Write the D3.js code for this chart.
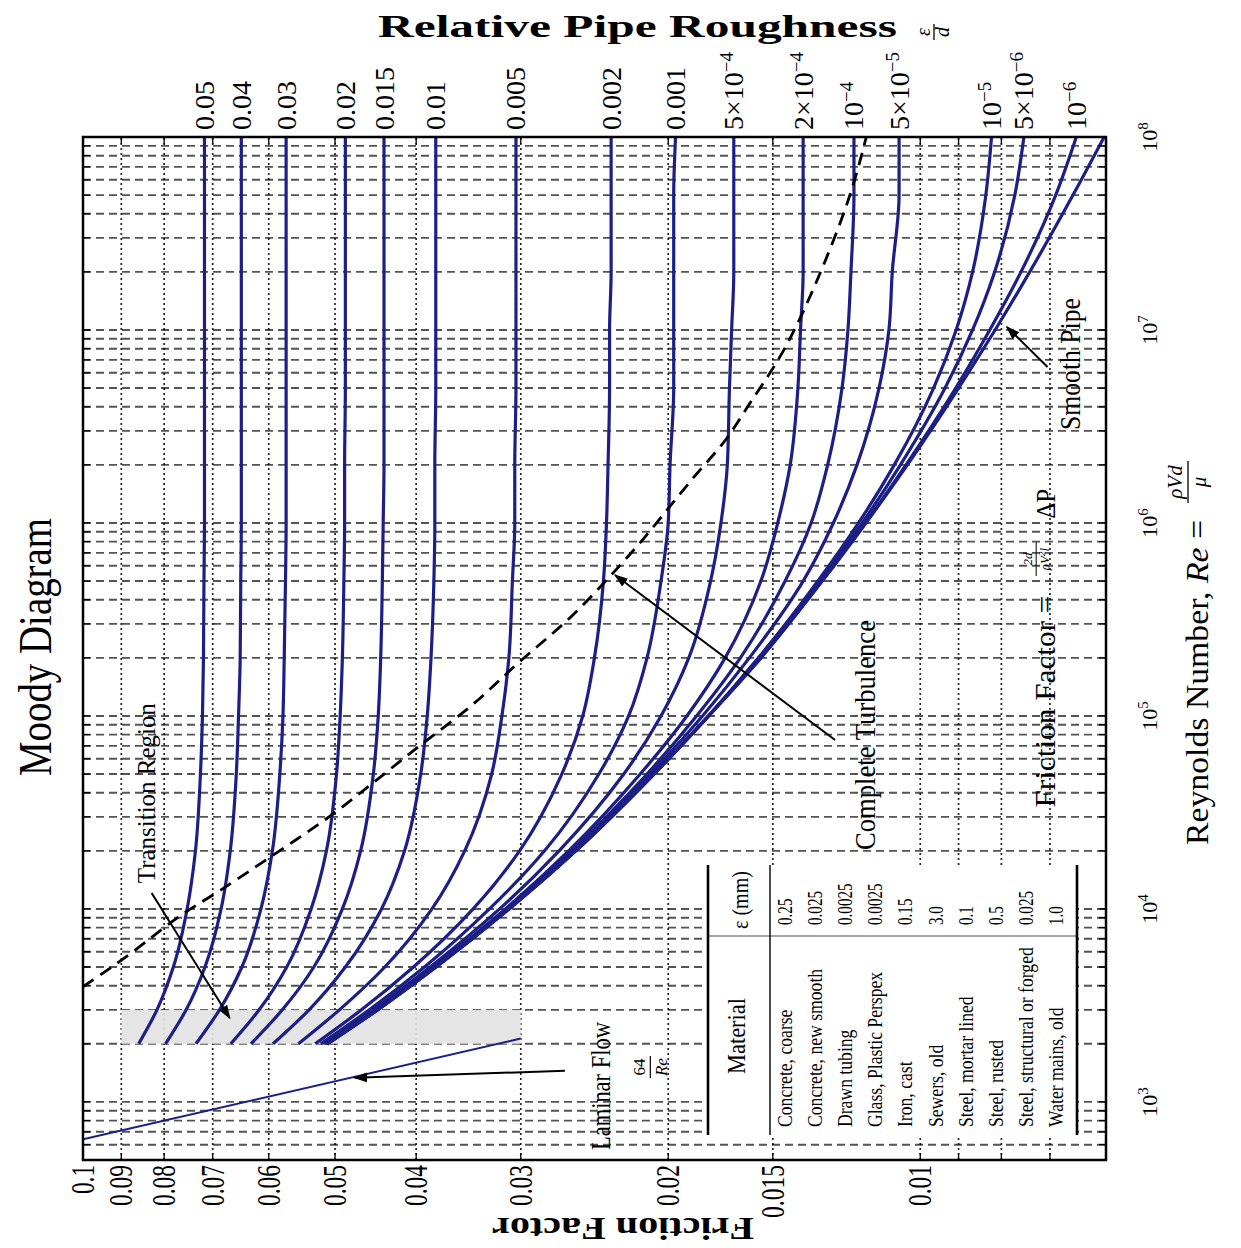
<!DOCTYPE html>
<html lang="en">
<head>
<meta charset="utf-8">
<title>Moody Diagram</title>
<script src="https://cdn.jsdelivr.net/npm/d3@7/dist/d3.min.js"></script>
<style>
  body { margin: 0; background: #fff; }
  svg text { font-family: "Liberation Serif", "DejaVu Serif", serif; }
</style>
</head>
<body>
<script>
var reynolds = [2000, 3000, 5000, 1e4, 2e4, 5e4, 1e5, 2e5, 5e5, 1e6, 2e6, 5e6, 1e7, 2e7, 5e7, 1e8];

// relative roughness of each curve, and the label printed at its end
var roughness = [0.05, 0.04, 0.03, 0.02, 0.015, 0.01, 0.005, 0.002, 0.001, 5e-4, 2e-4, 1e-4, 5e-5, 1e-5, 5e-6, 1e-6];
var roughLabels = [["0.05", ""], ["0.04", ""], ["0.03", ""], ["0.02", ""], ["0.015", ""], ["0.01", ""],
  ["0.005", ""], ["0.002", ""], ["0.001", ""], ["5\u00d710", "\u22124"], ["2\u00d710", "\u22124"], ["10", "\u22124"],
  ["5\u00d710", "\u22125"], ["10", "\u22125"], ["5\u00d710", "\u22126"], ["10", "\u22126"]];

// friction factor of each roughness curve, one value per Reynolds number above
var friction = [
  [0.0858, 0.0816, 0.0780, 0.0751, 0.0734, 0.0724, 0.0720, 0.0718, 0.0717, 0.0716, 0.0716, 0.0716, 0.0716, 0.0716, 0.0716, 0.0716],
  [0.0797, 0.0753, 0.0715, 0.0684, 0.0667, 0.0656, 0.0652, 0.0649, 0.0648, 0.0647, 0.0647, 0.0647, 0.0647, 0.0647, 0.0647, 0.0647],
  [0.0733, 0.0687, 0.0646, 0.0613, 0.0594, 0.0582, 0.0577, 0.0575, 0.0573, 0.0572, 0.0572, 0.0572, 0.0572, 0.0572, 0.0572, 0.0572],
  [0.0666, 0.0616, 0.0571, 0.0534, 0.0512, 0.0498, 0.0493, 0.0490, 0.0488, 0.0487, 0.0487, 0.0486, 0.0486, 0.0486, 0.0486, 0.0486],
  [0.0630, 0.0578, 0.0530, 0.0490, 0.0466, 0.0450, 0.0444, 0.0441, 0.0439, 0.0438, 0.0437, 0.0437, 0.0437, 0.0437, 0.0437, 0.0437],
  [0.0593, 0.0537, 0.0486, 0.0440, 0.0413, 0.0395, 0.0388, 0.0384, 0.0381, 0.0380, 0.0380, 0.0379, 0.0379, 0.0379, 0.0379, 0.0379],
  [0.0553, 0.0494, 0.0436, 0.0383, 0.0350, 0.0325, 0.0316, 0.0310, 0.0307, 0.0305, 0.0305, 0.0304, 0.0304, 0.0304, 0.0304, 0.0304],
  [0.0528, 0.0465, 0.0403, 0.0342, 0.0301, 0.0268, 0.0253, 0.0245, 0.0239, 0.0237, 0.0236, 0.0235, 0.0235, 0.0234, 0.0234, 0.0234],
  [0.0520, 0.0455, 0.0391, 0.0327, 0.0281, 0.0242, 0.0223, 0.0212, 0.0204, 0.0200, 0.0199, 0.0197, 0.0197, 0.0197, 0.0197, 0.0196],
  [0.0515, 0.0450, 0.0385, 0.0318, 0.0270, 0.0226, 0.0204, 0.0189, 0.0178, 0.0173, 0.0170, 0.0169, 0.0168, 0.0167, 0.0167, 0.0167],
  [0.0513, 0.0447, 0.0381, 0.0313, 0.0263, 0.0216, 0.0190, 0.0171, 0.0155, 0.0148, 0.0143, 0.0140, 0.0139, 0.0138, 0.0138, 0.0138],
  [0.0512, 0.0446, 0.0380, 0.0312, 0.0261, 0.0212, 0.0185, 0.0164, 0.0145, 0.0135, 0.0129, 0.0124, 0.0122, 0.0121, 0.0120, 0.0120],
  [0.0511, 0.0445, 0.0379, 0.0311, 0.0259, 0.0210, 0.0182, 0.0160, 0.0138, 0.0127, 0.0119, 0.0112, 0.0109, 0.0108, 0.0106, 0.0106],
  [0.0511, 0.0445, 0.0379, 0.0310, 0.0258, 0.0208, 0.0179, 0.0156, 0.01325, 0.01185, 0.01074, 0.00964, 0.00906, 0.00866, 0.00835, 0.00822],
  [0.0511, 0.0445, 0.0379, 0.0310, 0.0258, 0.0208, 0.0179, 0.0156, 0.01317, 0.01173, 0.01056, 0.00934, 0.00866, 0.00815, 0.00771, 0.00752],
  [0.0511, 0.0445, 0.0379, 0.0310, 0.0258, 0.0208, 0.0179, 0.0155, 0.01311, 0.01163, 0.01040, 0.00907, 0.00826, 0.00758, 0.00689, 0.00651]
];
var smoothPipe = [0.0511, 0.0445, 0.0379, 0.0310, 0.0258, 0.0208, 0.0179, 0.0155, 0.01309, 0.01161, 0.01036, 0.00900, 0.00814, 0.00740, 0.00657, 0.00603];

// laminar line end points
var laminarRe = [640, 2130];
var laminarF = [0.1, 0.03];

// dashed boundary of complete turbulence
var turbRe = [3950, 6110, 9100, 12000, 18600, 28900, 46500, 75000, 116000, 187000, 314000, 571000, 785000,
  1220000, 1810000, 2690000, 4010000, 6210000, 10000000, 20500000, 49200000, 100000000];
var turbF = [0.1, 0.0863, 0.0774, 0.0693, 0.0598, 0.0512, 0.0446, 0.0389, 0.0339, 0.0304, 0.0262, 0.0231, 0.0216,
  0.0199, 0.0185, 0.0170, 0.0161, 0.0150, 0.0141, 0.0131, 0.0121, 0.0116];

// transition region shading
var transRe = [2000, 3000];
var transF = [0.09, 0.03];

var fGrid = [0.006, 0.007, 0.008, 0.009, 0.01, 0.015, 0.02, 0.03, 0.04, 0.05, 0.06, 0.07, 0.08, 0.09];
var fTicks = [0.1, 0.09, 0.08, 0.07, 0.06, 0.05, 0.04, 0.03, 0.02, 0.015, 0.01];
var reDecades = [1e3, 1e4, 1e5, 1e6, 1e7, 1e8];

var materials = ["Concrete, coarse", "Concrete, new smooth", "Drawn tubing", "Glass, Plastic Perspex", "Iron, cast",
  "Sewers, old", "Steel, mortar lined", "Steel, rusted", "Steel, structural or forged", "Water mains, old"];
var epsMm = ["0.25", "0.025", "0.0025", "0.0025", "0.15", "3.0", "0.1", "0.5", "0.025", "1.0"];

var w = 1241;
var h = 1248;
var W = 1023;   // Reynolds extent
var H = 1023;   // friction factor extent
var blue = "#1c1f86";

var svg = d3.select("body").append("svg").attr("width", w).attr("height", h);
svg.append("rect").attr("width", w).attr("height", h).attr("fill", "#fff");

var defs = svg.append("defs");
defs.append("clipPath").attr("id", "plotclip")
  .append("rect").attr("x", 0).attr("y", 0).attr("width", W).attr("height", H);
defs.append("marker").attr("id", "arrow")
  .attr("viewBox", "0 -5 10 10").attr("refX", 9).attr("refY", 0)
  .attr("markerWidth", 14).attr("markerHeight", 14).attr("markerUnits", "userSpaceOnUse")
  .attr("orient", "auto")
  .append("path").attr("d", "M0,-3.5L10,0L0,3.5Z").attr("fill", "#000");

var x = d3.scaleLog().domain([500, 1e8]).range([0, W]);
var y = d3.scaleLog().domain([0.1, 0.006]).range([0, H]);

// the chart is laid out normally and then turned a quarter turn to the left
var g = svg.append("g").attr("transform", "translate(83,1160) rotate(-90)");
var plot = g.append("g").attr("clip-path", "url(#plotclip)");

// grid
var reGrid = x.ticks().filter(function(d) { return d > 500 && d < 1e8; });
plot.selectAll(".regrid").data(reGrid).enter().append("line")
  .attr("x1", function(d) { return x(d); }).attr("x2", function(d) { return x(d); })
  .attr("y1", 0).attr("y2", H)
  .attr("stroke", "#2a2a2a").attr("stroke-width", 1.9)
  .attr("stroke-dasharray", "8,5").attr("opacity", 0.8);
plot.selectAll(".fgrid").data(fGrid).enter().append("line")
  .attr("x1", 0).attr("x2", W)
  .attr("y1", function(d) { return y(d); }).attr("y2", function(d) { return y(d); })
  .attr("stroke", "#000").attr("stroke-width", 1.7)
  .attr("stroke-dasharray", "2,3").attr("opacity", 0.85);

// transition region
plot.append("rect")
  .attr("x", x(transRe[0])).attr("width", x(transRe[1]) - x(transRe[0]))
  .attr("y", y(transF[0])).attr("height", y(transF[1]) - y(transF[0]))
  .attr("fill", "#e3e3e3").attr("opacity", 0.92);

// roughness curves
var line = d3.line()
  .x(function(d) { return x(d[0]); })
  .y(function(d) { return y(d[1]); })
  .curve(d3.curveMonotoneX);

var curves = friction.concat([smoothPipe]);
plot.selectAll(".curve").data(curves).enter().append("path")
  .attr("d", function(c) {
    return line(reynolds.map(function(r, i) { return [r, c[i]]; }));
  })
  .attr("fill", "none").attr("stroke", blue).attr("stroke-width", 3.2);

plot.append("path")
  .attr("d", line(laminarRe.map(function(r, i) { return [r, laminarF[i]]; })))
  .attr("fill", "none").attr("stroke", blue).attr("stroke-width", 2);

plot.append("path")
  .attr("d", line.curve(d3.curveBasis)(turbRe.map(function(r, i) { return [r, turbF[i]]; })))
  .attr("fill", "none").attr("stroke", "#000").attr("stroke-width", 2.8)
  .attr("stroke-dasharray", "13,8");

// material table
var tb = g.append("g");
tb.append("rect").attr("x", 25).attr("y", 625).attr("width", 270).attr("height", 369).attr("fill", "#fff");
tb.append("line").attr("x1", 224).attr("x2", 224).attr("y1", 625).attr("y2", 994)
  .attr("stroke", "#888").attr("stroke-width", 1.5);
[[625, 2.6], [687, 1.4], [994, 2.6]].forEach(function(r) {
  tb.append("line").attr("x1", 25).attr("x2", 295).attr("y1", r[0]).attr("y2", r[0])
    .attr("stroke", "#000").attr("stroke-width", r[1]);
});
tb.append("text").attr("x", 124).attr("y", 662).attr("text-anchor", "middle")
  .attr("font-size", 26).attr("textLength", 76).attr("lengthAdjust", "spacingAndGlyphs").text("Material");
tb.append("text").attr("x", 260).attr("y", 665).attr("text-anchor", "middle")
  .attr("font-size", 24).attr("textLength", 58).attr("lengthAdjust", "spacingAndGlyphs").text("\u03b5 (mm)");
tb.selectAll(".mat").data(materials).enter().append("text")
  .attr("transform", function(d, i) { return "translate(33," + (709 + 30.1 * i) + ") scale(0.84,1)"; })
  .attr("font-size", 21).text(function(d) { return d; });
tb.selectAll(".eps").data(epsMm).enter().append("text")
  .attr("transform", function(d, i) { return "translate(235," + (709 + 30.1 * i) + ") scale(0.72,1)"; })
  .attr("font-size", 21).text(function(d) { return d; });

// arrows
var arrows = [
  [12090, 0.0828, 2720, 0.0668],
  [1450, 0.02657, 1334, 0.0474],
  [75000, 0.01264, 537000, 0.02315],
  [6.43e6, 0.007046, 1.036e7, 0.00788]
];
g.selectAll(".arrow").data(arrows).enter().append("line")
  .attr("x1", function(d) { return x(d[0]); }).attr("y1", function(d) { return y(d[1]); })
  .attr("x2", function(d) { return x(d[2]); }).attr("y2", function(d) { return y(d[3]); })
  .attr("stroke", "#000").attr("stroke-width", 2).attr("marker-end", "url(#arrow)");

// notes
var notes = [
  ["Transition Region", 13600, 0.082, 25, 180],
  ["Laminar Flow", 563, 0.02348, 27, 128],
  ["Complete Turbulence", 20200, 0.01133, 29, 230],
  ["Friction Factor =", 33500, 0.0069, 30, 212],
  ["Smooth Pipe", 3.03e6, 0.00645, 30, 132]
];
g.selectAll(".note").data(notes).enter().append("text")
  .attr("x", function(d) { return x(d[1]); }).attr("y", function(d) { return y(d[2]); })
  .attr("font-size", function(d) { return d[3]; })
  .attr("textLength", function(d) { return d[4]; }).attr("lengthAdjust", "spacingAndGlyphs")
  .text(function(d) { return d[0]; });

// 64 / Re
var lx = x(1516), ly = y(0.0213);
g.append("text").attr("x", lx).attr("y", ly).attr("text-anchor", "middle").attr("font-size", 17).text("64");
g.append("line").attr("x1", lx - 11).attr("x2", lx + 11).attr("y1", ly + 5).attr("y2", ly + 5)
  .attr("stroke", "#000").attr("stroke-width", 1.2);
g.append("text").attr("x", lx).attr("y", ly + 22).attr("text-anchor", "middle").attr("font-size", 17)
  .attr("font-style", "italic").text("Re");

// 2d / (rho V^2 l) and delta P
var fx = x(650000), fy = y(0.0069);
g.append("text").attr("x", fx).attr("y", fy - 23).attr("text-anchor", "middle").attr("font-size", 13)
  .attr("font-style", "italic").text("2d");
g.append("line").attr("x1", fx - 17).attr("x2", fx + 17).attr("y1", fy - 19).attr("y2", fy - 19)
  .attr("stroke", "#000").attr("stroke-width", 1);
var den = g.append("text").attr("x", fx).attr("y", fy - 6).attr("text-anchor", "middle").attr("font-size", 13)
  .attr("font-style", "italic");
den.append("tspan").text("\u03c1V");
den.append("tspan").attr("dy", -4).attr("font-size", 9).text("2");
den.append("tspan").attr("dy", 4).text("l");
g.append("text").attr("x", x(1.05e6)).attr("y", y(0.0069)).attr("font-size", 28)
  .attr("textLength", 30).attr("lengthAdjust", "spacingAndGlyphs").text("\u0394P");

// title and Reynolds axis label
g.append("text").attr("x", 513).attr("y", -32).attr("text-anchor", "middle")
  .attr("font-size", 46).attr("textLength", 258).attr("lengthAdjust", "spacingAndGlyphs")
  .text("Moody Diagram");

var rl = g.append("text").attr("x", 315).attr("y", 1125).attr("font-size", 32)
  .attr("textLength", 325).attr("lengthAdjust", "spacingAndGlyphs");
rl.append("tspan").text("Reynolds Number, ");
rl.append("tspan").attr("font-style", "italic").text("Re");
rl.append("tspan").text(" =");
g.append("text").attr("x", 678).attr("y", 1099).attr("text-anchor", "middle").attr("font-size", 21)
  .attr("font-style", "italic").text("\u03c1Vd");
g.append("line").attr("x1", 657).attr("x2", 699).attr("y1", 1105).attr("y2", 1105)
  .attr("stroke", "#000").attr("stroke-width", 1.3);
g.append("text").attr("x", 678).attr("y", 1123).attr("text-anchor", "middle").attr("font-size", 21)
  .attr("font-style", "italic").text("\u03bc");

// Reynolds tick labels
g.selectAll(".relab").data(reDecades).enter().append("text")
  .attr("x", function(d) { return x(d); }).attr("y", H + 51)
  .attr("text-anchor", "middle").attr("font-size", 22)
  .each(function(d) {
    var t = d3.select(this);
    t.append("tspan").text("10");
    t.append("tspan").attr("dy", -9).attr("font-size", 15).text(Math.round(Math.log10(d)));
  });

// friction factor tick labels
g.selectAll(".flab").data(fTicks).enter().append("text")
  .attr("x", -5).attr("y", function(d) { return y(d) + 11; })
  .attr("text-anchor", "end").attr("font-size", 33)
  .attr("textLength", function(d) { return 12 * (String(d).length - 1) + 5; })
  .attr("lengthAdjust", "spacingAndGlyphs")
  .text(function(d) { return String(d); });

// roughness labels at the curve ends
g.selectAll(".rlab").data(roughLabels).enter().append("text")
  .attr("x", W + 7).attr("y", function(d, i) { return y(friction[i][friction[i].length - 1]) + 9.5; })
  .attr("font-size", 28)
  .each(function(d) {
    var t = d3.select(this);
    t.append("tspan").text(d[0]);
    if (d[1]) t.append("tspan").attr("dy", -10).attr("font-size", 19).text(d[1]);
  });

// inner ticks and frame
g.selectAll(".tk1").data(reGrid).enter().append("path")
  .attr("d", function(d) { return "M" + x(d) + ",0V7M" + x(d) + "," + H + "V" + (H - 7); })
  .attr("stroke", "#000").attr("stroke-width", 1.3);
g.selectAll(".tk2").data(fGrid).enter().append("path")
  .attr("d", function(d) { return "M0," + y(d) + "H7M" + W + "," + y(d) + "H" + (W - 7); })
  .attr("stroke", "#000").attr("stroke-width", 1.3);
g.append("rect").attr("width", W).attr("height", H)
  .attr("fill", "none").attr("stroke", "#000").attr("stroke-width", 2.5);

// titles that sit level / upside down on the page
svg.append("text").attr("x", 378).attr("y", 37).attr("font-size", 31).attr("font-weight", "bold")
  .attr("textLength", 519).attr("lengthAdjust", "spacingAndGlyphs").text("Relative Pipe Roughness");
var ed = svg.append("g").attr("transform", "translate(934,32) rotate(-90)");
ed.append("text").attr("x", 0).attr("y", -4).attr("text-anchor", "middle").attr("font-size", 20)
  .attr("font-style", "italic").text("\u03b5");
ed.append("line").attr("x1", -8).attr("x2", 8).attr("y1", 0).attr("y2", 0)
  .attr("stroke", "#000").attr("stroke-width", 1.3);
ed.append("text").attr("x", 0).attr("y", 15).attr("text-anchor", "middle").attr("font-size", 20)
  .attr("font-style", "italic").text("d");

svg.append("text").attr("transform", "translate(623,1218) rotate(180)")
  .attr("text-anchor", "middle").attr("font-size", 31).attr("font-weight", "bold")
  .attr("textLength", 262).attr("lengthAdjust", "spacingAndGlyphs").text("Friction Factor");
</script>
</body>
</html>
